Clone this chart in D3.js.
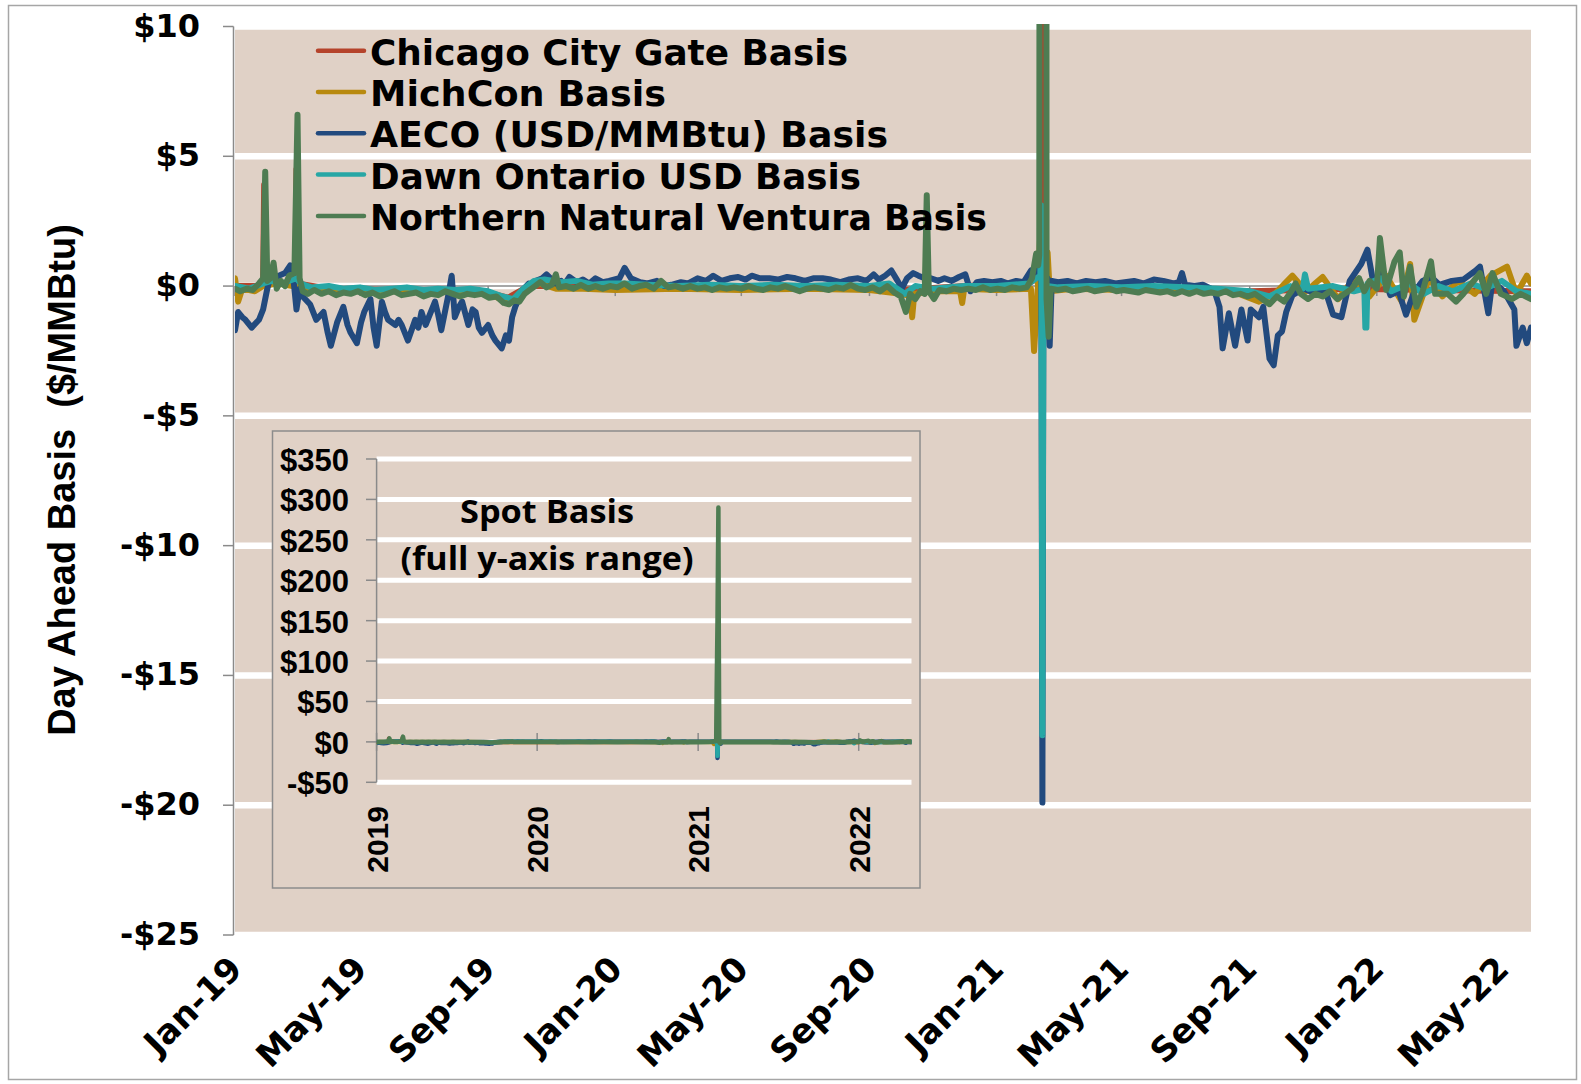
<!DOCTYPE html>
<meta charset="utf-8">
<script src="https://d3js.org/d3.v7.min.js"></script>
<style>
  body { margin: 0; background: #fff; }
  text { white-space: pre; }
</style>
<div id="chart"></div>
<script>

// ---- data ----
var seriesNames = ["Chicago City Gate Basis", "MichCon Basis", "AECO (USD/MMBtu) Basis",
                   "Dawn Ontario USD Basis", "Northern Natural Ventura Basis"];
var seriesColors = ["#b5432b", "#b8890e", "#224a7e", "#27a7a5", "#4e7c52"];

var yTicks = [10, 5, 0, -5, -10, -15, -20, -25];
var yTickLabels = ["$10", "$5", "$0", "-$5", "-$10", "-$15", "-$20", "-$25"];
var xTicks = ["2019-01-01", "2019-05-01", "2019-09-01", "2020-01-01", "2020-05-01", "2020-09-01",
              "2021-01-01", "2021-05-01", "2021-09-01", "2022-01-01", "2022-05-01"];
var xTickLabels = ["Jan-19", "May-19", "Sep-19", "Jan-20", "May-20", "Sep-20",
                   "Jan-21", "May-21", "Sep-21", "Jan-22", "May-22"];

var insetYTicks = [350, 300, 250, 200, 150, 100, 50, 0, -50];
var insetYTickLabels = ["$350", "$300", "$250", "$200", "$150", "$100", "$50", "$0", "-$50"];
var insetXTicks = ["2019-01-01", "2020-01-01", "2021-01-01", "2022-01-01"];
var insetXTickLabels = ["2019", "2020", "2021", "2022"];

var chicago = [
  ["2019-01-01",0.0],["2019-01-25",0.0],["2019-01-28",0.1],["2019-01-29",3.9],["2019-01-30",0.2],
  ["2019-02-20",0.1],["2019-02-28",0.2],["2019-03-01",4.5],["2019-03-02",0.1],["2019-04-01",-0.1],
  ["2019-06-01",-0.15],["2019-09-01",-0.25],["2019-09-20",-0.45],["2019-10-10",0.0],["2020-01-01",0.0],
  ["2020-06-01",-0.05],["2020-10-01",-0.15],["2020-12-01",0.0],["2021-02-01",0.1],["2021-02-13",0.4],
  ["2021-02-14",100],["2021-02-15",100],["2021-02-16",-0.3],["2021-03-01",0.0],["2021-06-01",-0.1],
  ["2021-09-01",-0.2],["2021-12-01",-0.1],["2022-03-01",-0.15],["2022-05-29",-0.2]
];

var michcon = [
  ["2019-01-01",0.3],["2019-01-04",-0.6],["2019-01-08",-0.1],["2019-01-20",-0.2],["2019-01-28",0.0],
  ["2019-02-10",0.1],["2019-02-25",0.0],["2019-03-10",-0.1],["2019-04-01",-0.1],["2019-05-01",-0.15],
  ["2019-06-01",-0.2],["2019-07-01",-0.2],["2019-08-01",-0.25],["2019-09-01",-0.3],["2019-09-20",-0.6],
  ["2019-10-01",-0.4],["2019-10-10",-0.1],["2019-10-20",0.1],["2019-11-05",-0.1],["2019-12-01",-0.1],
  ["2020-01-01",-0.15],["2020-03-01",-0.1],["2020-05-01",-0.15],["2020-07-01",-0.1],["2020-09-01",-0.15],
  ["2020-10-01",-0.3],["2020-10-11",-0.4],["2020-10-12",-1.2],["2020-10-14",-0.3],["2020-11-01",-0.2],
  ["2020-11-27",-0.2],["2020-11-29",-0.65],["2020-12-01",-0.1],["2021-01-01",-0.15],["2021-02-03",-0.1],
  ["2021-02-06",-2.5],["2021-02-09",-0.5],["2021-02-12",2.0],["2021-02-16",0.5],["2021-02-19",1.3],
  ["2021-02-21",-0.2],["2021-03-15",-0.1],["2021-05-01",-0.15],["2021-07-01",-0.1],["2021-08-15",-0.2],
  ["2021-09-10",-0.6],["2021-09-25",-0.3],["2021-10-12",0.4],["2021-10-25",-0.2],["2021-11-10",0.35],
  ["2021-11-25",-0.5],["2021-12-10",0.3],["2021-12-25",-0.4],["2022-01-10",0.4],["2022-01-25",-0.6],
  ["2022-02-02",0.85],["2022-02-06",-1.3],["2022-02-20",0.3],["2022-03-05",-0.4],["2022-03-20",0.2],
  ["2022-04-05",-0.3],["2022-04-20",0.4],["2022-05-06",0.75],["2022-05-15",-0.3],["2022-05-25",0.4],
  ["2022-05-29",0.1]
];

var aeco = [
  ["2019-01-01",-1.7],["2019-01-04",-1.0],["2019-01-08",-1.2],["2019-01-11",-1.3],["2019-01-17",-1.6],
  ["2019-01-24",-1.3],["2019-01-28",-0.9],["2019-02-01",-0.1],["2019-02-05",0.5],["2019-02-09",0.3],
  ["2019-02-12",0.4],["2019-02-18",0.5],["2019-02-23",0.8],["2019-02-26",0.3],["2019-03-01",-0.9],
  ["2019-03-04",-0.1],["2019-03-07",-0.4],["2019-03-14",-0.7],["2019-03-20",-1.3],["2019-03-27",-1.0],
  ["2019-03-31",-1.8],["2019-04-03",-2.3],["2019-04-09",-1.4],["2019-04-15",-0.8],["2019-04-19",-1.5],
  ["2019-04-22",-1.8],["2019-04-28",-2.2],["2019-05-02",-1.4],["2019-05-05",-1.0],["2019-05-11",-0.5],
  ["2019-05-14",-1.6],["2019-05-17",-2.3],["2019-05-22",-0.6],["2019-05-25",-1.0],["2019-05-28",-1.3],
  ["2019-06-04",-1.5],["2019-06-07",-1.3],["2019-06-10",-1.5],["2019-06-16",-2.1],["2019-06-23",-1.3],
  ["2019-06-26",-1.6],["2019-06-29",-1.0],["2019-07-03",-1.5],["2019-07-06",-1.2],["2019-07-12",-0.6],
  ["2019-07-15",-1.1],["2019-07-18",-1.7],["2019-07-25",-0.3],["2019-07-28",0.4],["2019-07-31",-1.2],
  ["2019-08-04",-0.8],["2019-08-07",-0.6],["2019-08-13",-1.5],["2019-08-17",-0.9],["2019-08-20",-1.0],
  ["2019-08-23",-1.6],["2019-08-26",-1.8],["2019-09-01",-1.5],["2019-09-05",-1.9],["2019-09-08",-2.1],
  ["2019-09-14",-2.4],["2019-09-18",-1.9],["2019-09-21",-2.1],["2019-09-24",-1.2],["2019-09-27",-0.8],
  ["2019-10-04",-0.15],["2019-10-10",0.1],["2019-10-14",0.0],["2019-10-17",0.2],["2019-10-23",0.3],
  ["2019-10-27",0.45],["2019-11-05",0.1],["2019-11-10",0.2],["2019-11-13",0.05],["2019-11-18",0.35],
  ["2019-11-25",0.15],["2019-12-01",0.25],["2019-12-07",0.1],["2019-12-13",0.3],["2019-12-20",0.15],
  ["2019-12-26",0.2],["2020-01-05",0.3],["2020-01-10",0.7],["2020-01-16",0.3],["2020-01-25",0.15],
  ["2020-02-01",0.1],["2020-02-10",0.2],["2020-02-17",0.0],["2020-02-24",0.05],["2020-03-04",0.15],
  ["2020-03-11",0.1],["2020-03-20",0.3],["2020-03-28",0.2],["2020-04-04",0.4],["2020-04-12",0.2],
  ["2020-04-20",0.3],["2020-04-28",0.35],["2020-05-05",0.25],["2020-05-11",0.4],["2020-05-19",0.3],
  ["2020-05-28",0.3],["2020-06-05",0.25],["2020-06-14",0.35],["2020-06-22",0.3],["2020-07-01",0.2],
  ["2020-07-09",0.3],["2020-07-18",0.3],["2020-07-26",0.25],["2020-08-04",0.15],["2020-08-12",0.25],
  ["2020-08-21",0.3],["2020-08-29",0.2],["2020-09-05",0.45],["2020-09-10",0.25],["2020-09-16",0.4],
  ["2020-09-22",0.6],["2020-09-28",0.2],["2020-10-02",-0.1],["2020-10-07",0.3],["2020-10-13",0.5],
  ["2020-10-18",0.4],["2020-10-24",0.3],["2020-10-30",0.3],["2020-11-06",0.2],["2020-11-12",0.3],
  ["2020-11-19",0.2],["2020-11-26",0.35],["2020-12-02",0.45],["2020-12-07",-0.2],["2020-12-13",0.15],
  ["2020-12-20",0.2],["2020-12-28",0.15],["2021-01-05",0.2],["2021-01-12",0.1],["2021-01-20",0.2],
  ["2021-01-27",0.15],["2021-02-03",0.6],["2021-02-08",0.4],["2021-02-11",0.9],["2021-02-13",0.5],
  ["2021-02-14",-19.9],["2021-02-15",0.2],["2021-02-19",0.3],["2021-02-21",-2.3],["2021-02-23",0.2],
  ["2021-03-01",0.15],["2021-03-10",0.2],["2021-03-19",0.1],["2021-03-28",0.2],["2021-04-06",0.15],
  ["2021-04-15",0.2],["2021-04-25",0.1],["2021-05-04",0.15],["2021-05-13",0.2],["2021-05-22",0.1],
  ["2021-06-01",0.25],["2021-06-10",0.2],["2021-06-20",0.1],["2021-06-25",0.15],["2021-06-28",0.5],
  ["2021-07-01",0.05],["2021-07-10",0.0],["2021-07-18",0.05],["2021-07-26",-0.1],["2021-07-30",-0.3],
  ["2021-08-03",-0.8],["2021-08-06",-2.4],["2021-08-12",-1.05],["2021-08-18",-2.3],["2021-08-24",-0.9],
  ["2021-08-30",-2.1],["2021-09-02",-0.9],["2021-09-10",-1.2],["2021-09-14",-0.8],["2021-09-20",-2.8],
  ["2021-09-24",-3.05],["2021-09-28",-1.9],["2021-10-02",-1.75],["2021-10-06",-1.0],["2021-10-12",-0.35],
  ["2021-10-23",-0.1],["2021-11-04",-0.3],["2021-11-12",-0.1],["2021-11-20",-1.1],["2021-11-28",-1.2],
  ["2021-12-06",0.2],["2021-12-17",0.85],["2021-12-23",1.4],["2021-12-29",0.05],["2022-01-06",0.55],
  ["2022-01-14",-0.35],["2022-01-22",-0.2],["2022-01-29",-1.1],["2022-02-06",-0.2],["2022-02-14",0.2],
  ["2022-02-22",0.35],["2022-03-02",0.05],["2022-03-14",0.2],["2022-03-25",0.25],["2022-04-06",0.6],
  ["2022-04-10",0.75],["2022-04-18",-1.05],["2022-04-22",0.2],["2022-05-03",-0.2],["2022-05-13",-0.9],
  ["2022-05-15",-2.3],["2022-05-21",-1.6],["2022-05-25",-2.2],["2022-05-29",-1.6]
];

var dawn = [
  ["2019-01-01",0.0],["2019-01-15",-0.1],["2019-01-28",0.1],["2019-02-05",0.2],["2019-02-15",0.1],
  ["2019-03-01",0.3],["2019-03-05",0.1],["2019-03-15",-0.05],["2019-04-01",0.0],["2019-04-15",-0.1],
  ["2019-05-01",-0.05],["2019-05-15",-0.15],["2019-06-01",-0.1],["2019-06-15",-0.05],["2019-07-01",-0.15],
  ["2019-07-15",-0.1],["2019-08-01",-0.15],["2019-08-15",-0.1],["2019-09-01",-0.2],["2019-09-15",-0.4],
  ["2019-09-25",-0.5],["2019-10-05",-0.1],["2019-10-15",0.2],["2019-10-25",0.25],["2019-11-10",0.15],
  ["2019-11-25",0.2],["2019-12-10",0.05],["2019-12-25",0.1],["2020-01-10",0.1],["2020-02-01",0.05],
  ["2020-03-01",0.0],["2020-04-01",0.05],["2020-05-01",0.0],["2020-06-01",0.05],["2020-07-01",0.0],
  ["2020-08-01",0.05],["2020-09-01",0.0],["2020-09-20",0.1],["2020-10-05",-0.3],["2020-10-15",0.0],
  ["2020-11-01",-0.1],["2020-12-01",0.0],["2021-01-01",0.0],["2021-02-01",0.1],["2021-02-08",0.3],
  ["2021-02-12",0.4],["2021-02-13",3.1],["2021-02-14",-17.3],["2021-02-15",0.2],["2021-02-18",0.0],
  ["2021-03-01",-0.05],["2021-04-01",0.0],["2021-05-01",-0.05],["2021-06-01",0.0],["2021-07-01",-0.05],
  ["2021-08-01",-0.1],["2021-09-01",-0.2],["2021-09-20",-0.4],["2021-10-10",0.0],["2021-10-22",-0.1],
  ["2021-10-24",0.45],["2021-10-27",-0.1],["2021-11-20",0.0],["2021-12-10",-0.2],["2021-12-20",-0.1],
  ["2021-12-21",-1.6],["2021-12-22",-1.6],["2021-12-23",0.1],["2022-01-05",0.3],["2022-01-15",-0.2],
  ["2022-02-01",0.1],["2022-02-15",-0.3],["2022-03-01",0.0],["2022-03-15",-0.2],["2022-04-01",0.1],
  ["2022-04-15",-0.1],["2022-05-01",0.2],["2022-05-15",-0.2],["2022-05-29",-0.3]
];

var northern = [
  ["2019-01-01",-0.1],["2019-01-06",-0.2],["2019-01-12",-0.1],["2019-01-18",-0.15],["2019-01-24",0.1],
  ["2019-01-28",0.3],["2019-01-30",4.4],["2019-02-01",0.2],["2019-02-04",0.3],["2019-02-07",0.9],
  ["2019-02-10",-0.1],["2019-02-14",0.2],["2019-02-18",0.0],["2019-02-22",0.4],["2019-02-27",0.5],
  ["2019-03-02",6.6],["2019-03-04",0.3],["2019-03-07",-0.2],["2019-03-12",-0.3],["2019-03-18",-0.15],
  ["2019-03-25",-0.3],["2019-04-01",-0.2],["2019-04-08",-0.35],["2019-04-15",-0.25],["2019-04-22",-0.3],
  ["2019-04-29",-0.2],["2019-05-06",-0.35],["2019-05-13",-0.25],["2019-05-20",-0.4],["2019-05-27",-0.3],
  ["2019-06-03",-0.2],["2019-06-10",-0.35],["2019-06-17",-0.3],["2019-06-24",-0.25],["2019-07-01",-0.4],
  ["2019-07-08",-0.3],["2019-07-15",-0.35],["2019-07-22",-0.2],["2019-07-29",-0.3],["2019-08-05",-0.4],
  ["2019-08-12",-0.3],["2019-08-19",-0.35],["2019-08-26",-0.3],["2019-09-02",-0.45],["2019-09-09",-0.4],
  ["2019-09-16",-0.65],["2019-09-21",-0.7],["2019-09-26",-0.55],["2019-10-01",-0.6],["2019-10-06",-0.3],
  ["2019-10-11",-0.15],["2019-10-16",0.0],["2019-10-21",0.15],["2019-10-27",-0.05],["2019-11-01",0.05],
  ["2019-11-05",0.45],["2019-11-08",-0.05],["2019-11-15",0.0],["2019-11-22",-0.1],["2019-11-29",0.05],
  ["2019-12-06",-0.1],["2019-12-13",0.0],["2019-12-20",-0.1],["2019-12-27",0.0],["2020-01-03",-0.05],
  ["2020-01-10",0.1],["2020-01-17",-0.1],["2020-01-24",0.0],["2020-01-31",0.05],["2020-02-07",-0.1],
  ["2020-02-14",0.2],["2020-02-21",-0.05],["2020-02-28",0.0],["2020-03-06",-0.1],["2020-03-13",0.0],
  ["2020-03-20",-0.1],["2020-03-27",-0.05],["2020-04-03",-0.15],["2020-04-10",-0.05],["2020-04-17",-0.1],
  ["2020-04-24",-0.05],["2020-05-01",-0.1],["2020-05-08",0.0],["2020-05-15",-0.1],["2020-05-22",-0.15],
  ["2020-05-29",-0.05],["2020-06-05",-0.1],["2020-06-12",0.0],["2020-06-19",-0.1],["2020-06-26",-0.2],
  ["2020-07-03",-0.1],["2020-07-10",-0.05],["2020-07-17",-0.1],["2020-07-24",-0.15],["2020-07-31",-0.05],
  ["2020-08-07",-0.1],["2020-08-14",0.05],["2020-08-21",-0.1],["2020-08-28",-0.15],["2020-09-04",-0.05],
  ["2020-09-11",-0.2],["2020-09-18",0.0],["2020-09-25",-0.25],["2020-10-01",-0.4],["2020-10-06",-1.0],
  ["2020-10-10",-0.3],["2020-10-15",-0.5],["2020-10-20",-0.2],["2020-10-24",-0.3],["2020-10-26",3.5],
  ["2020-10-28",-0.2],["2020-11-02",-0.5],["2020-11-07",-0.15],["2020-11-14",-0.2],["2020-11-21",-0.1],
  ["2020-11-28",-0.15],["2020-12-05",-0.1],["2020-12-12",-0.15],["2020-12-19",-0.05],["2020-12-26",-0.15],
  ["2021-01-02",-0.1],["2021-01-09",-0.15],["2021-01-16",-0.05],["2021-01-23",-0.1],["2021-01-30",-0.05],
  ["2021-02-04",0.3],["2021-02-08",1.25],["2021-02-10",0.8],["2021-02-11",1.2],["2021-02-12",60],
  ["2021-02-14",150],["2021-02-16",290],["2021-02-17",120],["2021-02-18",-0.5],["2021-02-20",-1.95],
  ["2021-02-22",-0.1],["2021-03-01",-0.15],["2021-03-08",-0.1],["2021-03-15",-0.2],["2021-03-22",-0.15],
  ["2021-03-29",-0.1],["2021-04-05",-0.2],["2021-04-12",-0.15],["2021-04-19",-0.1],["2021-04-26",-0.2],
  ["2021-05-03",-0.15],["2021-05-10",-0.2],["2021-05-17",-0.25],["2021-05-24",-0.15],["2021-05-31",-0.2],
  ["2021-06-07",-0.25],["2021-06-14",-0.2],["2021-06-21",-0.3],["2021-06-28",-0.2],["2021-07-05",-0.3],
  ["2021-07-12",-0.2],["2021-07-19",-0.3],["2021-07-26",-0.25],["2021-08-02",-0.3],["2021-08-09",-0.2],
  ["2021-08-16",-0.35],["2021-08-23",-0.3],["2021-08-30",-0.4],["2021-09-06",-0.3],["2021-09-13",-0.5],
  ["2021-09-20",-0.7],["2021-09-27",-0.4],["2021-10-04",-0.6],["2021-10-11",-0.2],["2021-10-15",0.1],
  ["2021-10-20",-0.3],["2021-10-27",-0.5],["2021-11-03",-0.3],["2021-11-10",-0.4],["2021-11-17",-0.2],
  ["2021-11-24",-0.5],["2021-12-01",-0.3],["2021-12-08",-0.1],["2021-12-15",0.3],["2021-12-20",-0.2],
  ["2021-12-25",0.2],["2022-01-01",-0.1],["2022-01-04",1.85],["2022-01-10",-0.15],["2022-01-18",0.95],
  ["2022-01-23",1.3],["2022-01-27",-0.4],["2022-02-02",0.75],["2022-02-08",-0.8],["2022-02-14",-0.2],
  ["2022-02-22",0.95],["2022-02-26",-0.3],["2022-03-10",-0.3],["2022-03-18",-0.6],["2022-03-25",-0.3],
  ["2022-04-10",0.5],["2022-04-16",-0.3],["2022-04-22",0.5],["2022-04-30",-0.3],["2022-05-11",-0.5],
  ["2022-05-19",-0.3],["2022-05-29",-0.5]
];

var allSeries = [chicago, michcon, aeco, dawn, northern];

// ---- layout ----
var W = 1581, H = 1084;
var bg = "#e0d1c6", axisGray = "#8a8a8a";
var legendTextWidths = [478, 296, 518, 491, 617];
var parse = d3.timeParse("%Y-%m-%d");

var svg = d3.select("#chart").append("svg")
  .attr("width", W).attr("height", H)
  .style("font-family", "'DejaVu Sans', Verdana, sans-serif")
  .style("font-weight", "bold");

// outer border of the chart area
svg.append("rect")
  .attr("x", 8.5).attr("y", 5.5).attr("width", 1568).attr("height", 1074)
  .attr("fill", "#fff").attr("stroke", "#a6a6a6").attr("stroke-width", 1.5);

// main scales
var x = d3.scaleTime()
  .domain([parse("2019-01-01"), parse("2022-05-29")])
  .range([235, 1531]);
var y = d3.scaleLinear().domain([-25, 10]).range([935, 26.5]);

// plot background + white gridlines
svg.append("rect")
  .attr("x", 235).attr("y", y(10)).attr("width", 1531 - 235).attr("height", y(-25) - y(10))
  .attr("fill", bg);
svg.selectAll(".grid").data(yTicks).enter().append("line")
  .attr("x1", 235).attr("x2", 1531)
  .attr("y1", function(d) { return y(d); }).attr("y2", function(d) { return y(d); })
  .attr("stroke", "#fff").attr("stroke-width", 6.5);

// left axis
var yAxis = svg.append("g");
yAxis.append("line").attr("x1", 233.5).attr("x2", 233.5).attr("y1", y(10)).attr("y2", y(-25))
  .attr("stroke", axisGray).attr("stroke-width", 1.5);
yAxis.selectAll(".tk").data(yTicks).enter().append("line")
  .attr("x1", 223).attr("x2", 233.5)
  .attr("y1", function(d) { return y(d); }).attr("y2", function(d) { return y(d); })
  .attr("stroke", axisGray).attr("stroke-width", 1.5);
yAxis.selectAll(".lb").data(yTicks).enter().append("text")
  .attr("x", 200).attr("y", function(d) { return y(d) + 10; })
  .attr("text-anchor", "end").attr("font-size", 32)
  .text(function(d, i) { return yTickLabels[i]; });

// zero line with month ticks
svg.append("line").attr("x1", 235).attr("x2", 1531).attr("y1", y(0)).attr("y2", y(0))
  .attr("stroke", axisGray).attr("stroke-width", 1.5);
svg.selectAll(".xt").data(xTicks).enter().append("line")
  .attr("x1", function(d) { return x(parse(d)); }).attr("x2", function(d) { return x(parse(d)); })
  .attr("y1", y(0)).attr("y2", y(0) + 10)
  .attr("stroke", axisGray).attr("stroke-width", 1.5);

// bottom labels
svg.selectAll(".xl").data(xTicks).enter().append("text")
  .attr("transform", function(d) { return "translate(" + (x(parse(d)) + 9) + ",971)rotate(-45)"; })
  .attr("text-anchor", "end").attr("font-size", 34)
  .text(function(d, i) { return xTickLabels[i]; });

// y title
svg.append("text")
  .attr("transform", "translate(75,480)rotate(-90)")
  .attr("text-anchor", "middle")
  .style("font-family", "'Liberation Sans', Arial, sans-serif")
  .attr("font-size", 38)
  .text("Day Ahead Basis  ($/MMBtu)");

// series lines
svg.append("clipPath").attr("id", "clipMain").append("rect")
  .attr("x", 235).attr("y", 24).attr("width", 1296).attr("height", 911);

var line = d3.line()
  .x(function(d) { return x(parse(d[0])); })
  .y(function(d) { return y(d[1]); });

svg.append("g").attr("clip-path", "url(#clipMain)")
  .selectAll("path").data(allSeries).enter().append("path")
  .attr("d", line)
  .attr("fill", "none")
  .attr("stroke", function(d, i) { return seriesColors[i]; })
  .attr("stroke-width", 6)
  .attr("stroke-linejoin", "round")
  .attr("stroke-linecap", "round");

// legend
var legend = svg.append("g");
seriesNames.forEach(function(name, i) {
  var ly = 50.7 + i * 41.3;
  legend.append("line").attr("x1", 318).attr("x2", 364).attr("y1", ly).attr("y2", ly)
    .attr("stroke", seriesColors[i]).attr("stroke-width", 4.5).attr("stroke-linecap", "round");
  legend.append("text").attr("x", 370).attr("y", ly + 14).attr("font-size", 36)
    .attr("textLength", legendTextWidths[i]).attr("lengthAdjust", "spacingAndGlyphs")
    .text(name);
});

// ---- inset ----
var inset = svg.append("g").style("font-family", "'Liberation Sans', Arial, sans-serif");
inset.append("rect")
  .attr("x", 272.5).attr("y", 431).attr("width", 920 - 272.5).attr("height", 888 - 431)
  .attr("fill", bg).attr("stroke", "#8c8c8c").attr("stroke-width", 1.5);

var xi = d3.scaleTime()
  .domain([parse("2019-01-01"), parse("2022-05-01")])
  .range([376.6, 911.5]);
var yi = d3.scaleLinear().domain([-50, 350]).range([782.3, 459]);

inset.selectAll(".ig").data(insetYTicks).enter().append("line")
  .attr("x1", 376.6).attr("x2", 911.5)
  .attr("y1", function(d) { return yi(d); }).attr("y2", function(d) { return yi(d); })
  .attr("stroke", "#fff").attr("stroke-width", 5);
inset.append("line").attr("x1", 376.6).attr("x2", 376.6).attr("y1", yi(350)).attr("y2", yi(-50))
  .attr("stroke", axisGray).attr("stroke-width", 1.5);
inset.selectAll(".it").data(insetYTicks).enter().append("line")
  .attr("x1", 366).attr("x2", 376.6)
  .attr("y1", function(d) { return yi(d); }).attr("y2", function(d) { return yi(d); })
  .attr("stroke", axisGray).attr("stroke-width", 1.5);
inset.selectAll(".il").data(insetYTicks).enter().append("text")
  .attr("x", 349).attr("y", function(d) { return yi(d) + 12; })
  .attr("text-anchor", "end").attr("font-size", 31)
  .text(function(d, i) { return insetYTickLabels[i]; });

inset.append("line").attr("x1", 376.6).attr("x2", 911.5).attr("y1", yi(0)).attr("y2", yi(0))
  .attr("stroke", axisGray).attr("stroke-width", 1.5);
inset.selectAll(".ixt").data(insetXTicks).enter().append("line")
  .attr("x1", function(d) { return xi(parse(d)); }).attr("x2", function(d) { return xi(parse(d)); })
  .attr("y1", yi(0) - 9).attr("y2", yi(0) + 9)
  .attr("stroke", axisGray).attr("stroke-width", 1.5);
inset.selectAll(".ixl").data(insetXTicks).enter().append("text")
  .attr("transform", function(d) { return "translate(" + (xi(parse(d)) + 11) + ",806)rotate(-90)"; })
  .attr("text-anchor", "end").attr("font-size", 30)
  .text(function(d, i) { return insetXTickLabels[i]; });

inset.append("clipPath").attr("id", "clipInset").append("rect")
  .attr("x", 376.6).attr("y", 455).attr("width", 911.5 - 376.6).attr("height", 330);

var lineInset = d3.line()
  .x(function(d) { return xi(parse(d[0])); })
  .y(function(d) { return yi(d[1]); });

inset.append("g").attr("clip-path", "url(#clipInset)")
  .selectAll("path").data(allSeries).enter().append("path")
  .attr("d", lineInset)
  .attr("fill", "none")
  .attr("stroke", function(d, i) { return seriesColors[i]; })
  .attr("stroke-width", 4.5)
  .attr("stroke-linejoin", "round");

var note = inset.append("g").style("font-family", "'Open Sans', sans-serif").style("font-weight", "bold");
note.append("text").attr("x", 547).attr("y", 523).attr("text-anchor", "middle")
  .attr("font-size", 33).attr("textLength", 174).attr("lengthAdjust", "spacingAndGlyphs")
  .text("Spot Basis");
note.append("text").attr("x", 547).attr("y", 570).attr("text-anchor", "middle")
  .attr("font-size", 33).attr("textLength", 293).attr("lengthAdjust", "spacingAndGlyphs")
  .text("(full y-axis range)");

</script>
